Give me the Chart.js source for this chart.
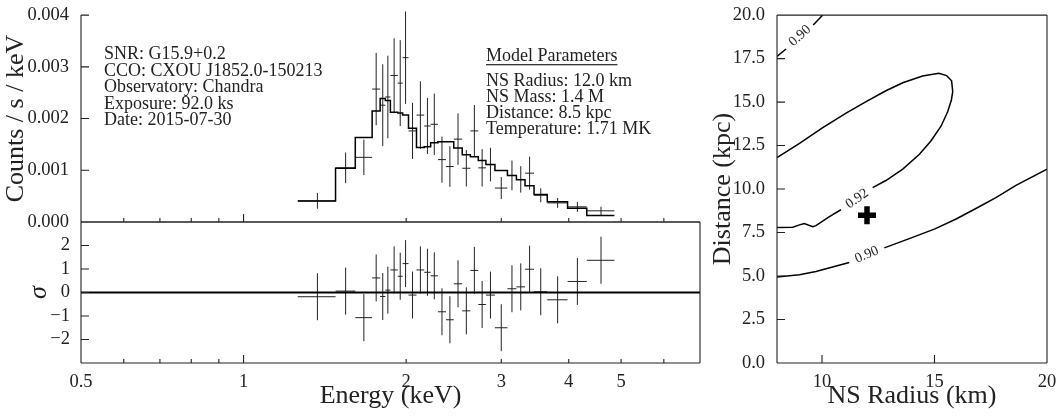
<!DOCTYPE html>
<html>
<head>
<meta charset="utf-8">
<script src="https://cdn.jsdelivr.net/npm/chart.js@4.4.1/dist/chart.umd.min.js"></script>
<style>
	body { margin: 0; background: #fff; }
	#wrap { position: relative; width: 1058px; height: 417px; overflow: hidden; background: #fff; }
	#wrap canvas { position: absolute; }
</style>
</head>
<body>
<div id="wrap">
	<canvas id="spectrum" width="710" height="240" style="left:0px;top:0px"></canvas>
	<canvas id="resid" width="710" height="217" style="left:0px;top:200px"></canvas>
	<canvas id="contour" width="358" height="417" style="left:700px;top:0px"></canvas>
</div>
<script>
Chart.defaults.font.family = "'Liberation Serif', 'Times New Roman', serif";
Chart.defaults.color = "#222";
Chart.defaults.animation = false;

// 스펙트럼 bin 경계 (keV)
const binEdges = [1.26, 1.48, 1.61, 1.73, 1.79, 1.83, 1.87, 1.93, 1.97, 2.02, 2.09, 2.16, 2.22, 2.29,
	2.37, 2.45, 2.54, 2.63, 2.72, 2.81, 2.92, 3.08, 3.20, 3.32, 3.45, 3.65, 3.98, 4.32, 4.86];

// 관측 count rate / 오차 (counts/s/keV)
const countRate = [0.000408, 0.001047, 0.001250, 0.002570, 0.002258, 0.002417, 0.002833, 0.002685,
	0.003177, 0.001761, 0.002067, 0.001856, 0.001889, 0.001206, 0.001072, 0.001602, 0.001039, 0.001761,
	0.001047, 0.001110, 0.000656, 0.000900, 0.000823, 0.000944, 0.000517, 0.000369, 0.000293, 0.000216];
const countErr = [0.000153, 0.000297, 0.000342, 0.000699, 0.000791, 0.000798, 0.000718, 0.000830,
	0.000893, 0.000542, 0.000654, 0.000542, 0.000593, 0.000446, 0.000392, 0.000498, 0.000351, 0.000500,
	0.000361, 0.000325, 0.000213, 0.000287, 0.000255, 0.000319, 0.000134, 0.000096, 0.000096, 0.000080];

// 모델 (step)
const modelRate = [0.000408, 0.001039, 0.001633, 0.002144, 0.002387, 0.002348, 0.002124, 0.002105,
	0.002067, 0.001812, 0.001440, 0.001455, 0.001531, 0.001550, 0.001550, 0.001430, 0.001301, 0.001263,
	0.001187, 0.001110, 0.000995, 0.000900, 0.000817, 0.000700, 0.000530, 0.000392, 0.000268, 0.000124];

// 잔차 (sigma), 오차는 1 sigma
const residual = [-0.18, 0.06, -1.07, 0.62, -0.17, 0.10, 0.96, 0.69, 1.23, -0.11, 0.96, 0.86, 0.71,
	-0.82, -1.16, 0.37, -0.78, 0.94, -0.51, -0.11, -1.50, 0.16, 0.24, 0.99, 0.03, -0.31, 0.47, 1.37];
const residualErr = 1;

// 눈금
const energyLabelTicks = [0.5, 1, 2, 3, 4, 5];
const energyMajorTicks = [1];
const energyMinorTicks = [0.6, 0.7, 0.8, 0.9, 2, 3, 4, 5, 6];
const countTicks = [0, 0.001, 0.002, 0.003, 0.004];
const sigmaTicks = [-2, -1, 0, 1, 2];
const radiusTicks = [10, 15, 20];
const distanceTicks = [0, 2.5, 5, 7.5, 10, 12.5, 15, 17.5, 20];

// 등고선 (NS radius km, distance kpc) - 라벨 자리에서 끊김
const contour090UpperA = [[8.0, 17.62], [8.4, 18.05]];
const contour090UpperB = [[9.61, 19.43], [10.03, 20.0]];
const contour090LowerA = [[8.0, 4.95], [9.0, 5.07], [9.73, 5.26], [10.47, 5.52], [11.21, 5.78]];
const contour090LowerB = [[12.77, 6.62], [13.88, 7.15], [15.02, 7.71], [15.96, 8.28], [16.84, 8.88],
	[17.73, 9.51], [18.62, 10.21], [20.0, 11.15]];
const contour092A = [[8.0, 11.80], [9.0, 12.63], [10.0, 13.50], [11.07, 14.37], [11.96, 15.03],
	[12.84, 15.65], [13.59, 16.11], [14.47, 16.50], [15.19, 16.65], [15.54, 16.52], [15.76, 16.22],
	[15.81, 15.60], [15.75, 15.12], [15.59, 14.46], [15.29, 13.61], [14.84, 12.76], [14.33, 12.00],
	[13.59, 11.15], [12.84, 10.49], [12.25, 10.08]];
const contour092B = [[10.84, 8.81], [10.33, 8.41], [9.73, 7.90], [9.59, 7.83], [9.21, 8.02],
	[9.0, 7.94], [8.70, 7.81], [8.0, 7.79]];
const bestFit = [[12.0, 8.5]];

const contourLabels = [
	{ text: "0.90", at: [9.02, 18.81], from: contour090UpperA[contour090UpperA.length - 1], to: contour090UpperB[0] },
	{ text: "0.90", at: [11.99, 6.22], from: contour090LowerA[contour090LowerA.length - 1], to: contour090LowerB[0] },
	{ text: "0.92", at: [11.56, 9.45], from: contour092B[0], to: contour092A[contour092A.length - 1] }
];

const infoLines = ["SNR: G15.9+0.2", "CCO: CXOU J1852.0-150213", "Observatory: Chandra", "Exposure: 92.0 ks", "Date: 2015-07-30"];
const paramTitle = "Model Parameters";
const paramLines = ["NS Radius: 12.0 km", "NS Mass: 1.4 M", "Distance: 8.5 kpc", "Temperature: 1.71 MK"];

const FONT = "'Liberation Serif', 'Times New Roman', serif";

function fixWidth(w) { return function(scale) { scale.width = w; }; }
function fixHeight(h) { return function(scale) { scale.height = h; }; }
function useTicks(list) { return function(scale) { scale.ticks = list.map(function(v) { return { value: v }; }); }; }
function toXY(list) { return list.map(function(p) { return { x: p[0], y: p[1] }; }); }

// 에러바: bin 폭만큼 가로선 + 오차만큼 세로선, null 로 끊어줌
function crossData(values, errs) {
	let pts = [];
	values.forEach(function(v, i) {
		let e = Array.isArray(errs) ? errs[i] : errs;
		let lo = binEdges[i], hi = binEdges[i + 1], mid = (lo + hi) / 2;
		pts.push({ x: lo, y: v }, { x: hi, y: v }, { x: hi, y: null });
		pts.push({ x: mid, y: v - e }, { x: mid, y: v + e }, { x: mid, y: null });
	});
	return pts;
}

function lineSet(data, width, extra) {
	return Object.assign({
		data: data,
		showLine: true,
		borderColor: "#000",
		borderWidth: width,
		pointRadius: 0,
		spanGaps: false
	}, extra || {});
}

// 축선 + 안쪽 방향 눈금
const axisFrame = {
	id: "axisFrame",
	afterDatasetsDraw(chart, args, opts) {
		const { ctx, chartArea: a, scales } = chart;
		ctx.save();
		ctx.strokeStyle = "#222";
		ctx.lineWidth = 1.1;
		ctx.beginPath();
		let sides = opts.sides || [];
		if (sides.includes("left")) { ctx.moveTo(a.left, a.top); ctx.lineTo(a.left, a.bottom); }
		if (sides.includes("right")) { ctx.moveTo(a.right, a.top); ctx.lineTo(a.right, a.bottom); }
		if (sides.includes("top")) { ctx.moveTo(a.left, a.top); ctx.lineTo(a.right, a.top); }
		if (sides.includes("bottom")) { ctx.moveTo(a.left, a.bottom); ctx.lineTo(a.right, a.bottom); }
		(opts.xMajor || []).forEach(function(v) {
			let px = scales.x.getPixelForValue(v);
			ctx.moveTo(px, a.bottom); ctx.lineTo(px, a.bottom - 8);
		});
		(opts.xMinor || []).forEach(function(v) {
			let px = scales.x.getPixelForValue(v);
			ctx.moveTo(px, a.bottom); ctx.lineTo(px, a.bottom - 4);
		});
		(opts.yMajor || []).forEach(function(v) {
			let py = scales.y.getPixelForValue(v);
			ctx.moveTo(a.left, py); ctx.lineTo(a.left + 8, py);
		});
		ctx.stroke();
		ctx.restore();
	}
};

// 스펙트럼 안의 설명 텍스트
const infoText = {
	id: "infoText",
	afterDraw(chart) {
		const { ctx, chartArea: a } = chart;
		ctx.save();
		ctx.font = "18px " + FONT;
		ctx.fillStyle = "#222";
		ctx.textBaseline = "alphabetic";
		infoLines.forEach(function(t, i) {
			ctx.fillText(t, a.left + 23, a.top + 44 + i * 16.5);
		});
		let px = a.left + 405;
		ctx.fillText(paramTitle, px, a.top + 45.5);
		ctx.fillRect(px, a.top + 49, ctx.measureText(paramTitle).width, 1.2);
		paramLines.forEach(function(t, i) {
			ctx.fillText(t, px, a.top + 71 + i * 16);
		});
		ctx.restore();
	}
};

// 등고선 라벨 (선 방향으로 회전)
const contourText = {
	id: "contourText",
	afterDatasetsDraw(chart) {
		const { ctx, scales: { x, y } } = chart;
		contourLabels.forEach(function(lab) {
			let dx = x.getPixelForValue(lab.to[0]) - x.getPixelForValue(lab.from[0]);
			let dy = y.getPixelForValue(lab.to[1]) - y.getPixelForValue(lab.from[1]);
			ctx.save();
			ctx.translate(x.getPixelForValue(lab.at[0]), y.getPixelForValue(lab.at[1]));
			ctx.rotate(Math.atan2(dy, dx));
			ctx.font = "14px " + FONT;
			ctx.fillStyle = "#222";
			ctx.textAlign = "center";
			ctx.textBaseline = "middle";
			ctx.fillText(lab.text, 0, 0);
			ctx.restore();
		});
	}
};

const noGrid = { display: false };
const noBorder = { display: false };
const commonPlugins = { legend: { display: false }, tooltip: { enabled: false } };

// ---- 스펙트럼 ----
let modelPts = modelRate.map(function(v, i) { return { x: binEdges[i], y: v }; });
modelPts.push({ x: binEdges[binEdges.length - 1], y: modelRate[modelRate.length - 1] });

new Chart(document.getElementById("spectrum").getContext("2d"), {
	type: "scatter",
	data: {
		datasets: [
			lineSet(modelPts, 1.5, { stepped: true }),
			lineSet(crossData(countRate, countErr), 1, { clip: false, borderColor: "#222" })
		]
	},
	options: {
		responsive: false,
		devicePixelRatio: 1,
		layout: { padding: { top: 13, right: 10, bottom: 18, left: 0 }, autoPadding: false },
		scales: {
			x: { type: "logarithmic", min: 0.5, max: 7, display: false },
			y: {
				type: "linear", min: 0, max: 0.004,
				afterBuildTicks: useTicks(countTicks),
				afterFit: fixWidth(81),
				grid: noGrid, border: noBorder,
				ticks: { padding: 4, font: { size: 18.5 }, callback: function(v) { return v.toFixed(3); } },
				title: { display: true, text: "Counts / s / keV", font: { size: 26 }, padding: { top: 1, bottom: 0 } }
			}
		},
		plugins: Object.assign({
			axisFrame: { sides: ["left", "bottom"], xMajor: energyMajorTicks, xMinor: energyMinorTicks, yMajor: countTicks }
		}, commonPlugins)
	},
	plugins: [axisFrame, infoText]
});

// ---- 잔차 ----
new Chart(document.getElementById("resid").getContext("2d"), {
	type: "scatter",
	data: {
		datasets: [
			lineSet([{ x: 0.5, y: 0 }, { x: 7, y: 0 }], 1.8),
			lineSet(crossData(residual, residualErr), 1, { borderColor: "#222" })
		]
	},
	options: {
		responsive: false,
		devicePixelRatio: 1,
		layout: { padding: { top: 22, right: 10, bottom: 0, left: 0 }, autoPadding: false },
		scales: {
			x: {
				type: "logarithmic", min: 0.5, max: 7,
				afterBuildTicks: useTicks(energyLabelTicks),
				afterFit: fixHeight(54),
				grid: noGrid, border: noBorder,
				ticks: { padding: 0, autoSkip: false, maxRotation: 0, font: { size: 18.5 }, callback: function(v) { return String(v); } },
				title: { display: true, text: "Energy (keV)", font: { size: 26 }, padding: { top: 0, bottom: 5 } }
			},
			y: {
				type: "linear", min: -3, max: 3,
				afterBuildTicks: useTicks(sigmaTicks),
				afterFit: fixWidth(81),
				grid: noGrid, border: noBorder,
				ticks: { padding: 3, font: { size: 18.5 }, callback: function(v) { return v < 0 ? "\u2212" + (-v) : String(v); } },
				title: { display: true, text: "σ", font: { size: 26, style: "italic" }, padding: { top: 24, bottom: 0 } }
			}
		},
		plugins: Object.assign({
			axisFrame: { sides: ["left", "right", "top", "bottom"], xMajor: energyMajorTicks, xMinor: energyMinorTicks, yMajor: sigmaTicks }
		}, commonPlugins)
	},
	plugins: [axisFrame]
});

// ---- 반지름-거리 등고선 ----
new Chart(document.getElementById("contour").getContext("2d"), {
	type: "scatter",
	data: {
		datasets: [
			lineSet(toXY(contour090UpperA), 1.5),
			lineSet(toXY(contour090UpperB), 1.5),
			lineSet(toXY(contour090LowerA), 1.5),
			lineSet(toXY(contour090LowerB), 1.5),
			lineSet(toXY(contour092A), 1.5),
			lineSet(toXY(contour092B), 1.5),
			{
				data: toXY(bestFit),
				showLine: false,
				pointStyle: "cross",
				pointRadius: 9,
				pointBorderWidth: 5.5,
				pointBorderColor: "#000",
				pointBackgroundColor: "#000"
			}
		]
	},
	options: {
		responsive: false,
		devicePixelRatio: 1,
		layout: { padding: { top: 10, right: 11, bottom: 0, left: 0 }, autoPadding: false },
		scales: {
			x: {
				type: "linear", min: 8, max: 20,
				afterBuildTicks: useTicks(radiusTicks),
				afterFit: fixHeight(54),
				grid: noGrid, border: noBorder,
				ticks: { padding: 0, autoSkip: false, maxRotation: 0, font: { size: 18.5 }, callback: function(v) { return String(v); } },
				title: { display: true, text: "NS Radius (km)", font: { size: 26 }, padding: { top: 0, bottom: 5 } }
			},
			y: {
				type: "linear", min: 0, max: 20,
				afterBuildTicks: useTicks(distanceTicks),
				afterFit: fixWidth(77),
				grid: noGrid, border: noBorder,
				ticks: { padding: 4, font: { size: 18.5 }, callback: function(v) { return v.toFixed(1); } },
				title: { display: true, text: "Distance (kpc)", font: { size: 26 }, padding: { top: 8, bottom: 0 } }
			}
		},
		plugins: Object.assign({
			axisFrame: { sides: ["left", "right", "top", "bottom"], xMajor: radiusTicks, yMajor: distanceTicks }
		}, commonPlugins)
	},
	plugins: [axisFrame, contourText]
});
</script>
</body>
</html>
